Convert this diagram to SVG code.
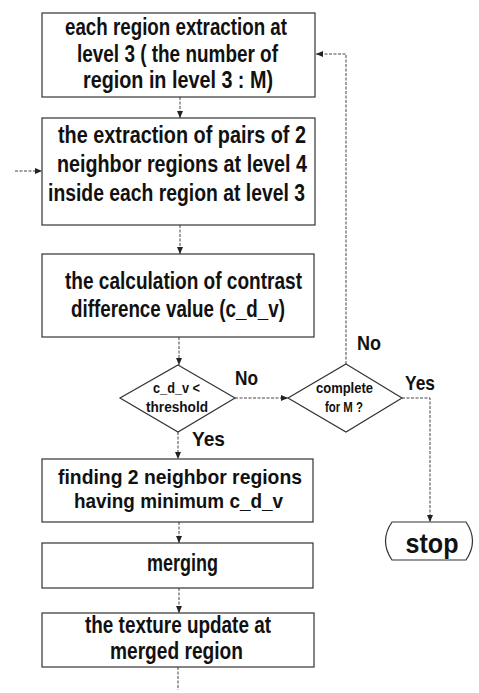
<svg xmlns="http://www.w3.org/2000/svg" width="479" height="693" viewBox="0 0 479 693">
<style>
.box{fill:#fff;stroke:#333;stroke-width:1.2}
.dia{fill:#fff;stroke:#333;stroke-width:1.2}
.t{font-family:"Liberation Sans",Arial,sans-serif;font-weight:bold;fill:#111;text-anchor:middle}
.b{font-size:23px}
.s{font-size:14px}
.l{font-size:21px}
.c{fill:none;stroke:#444;stroke-width:1;stroke-dasharray:3 1.5}
</style>
<defs>
<marker id="ah" markerUnits="userSpaceOnUse" markerWidth="8" markerHeight="8" refX="7" refY="4" orient="auto">
<path d="M0,1 L7,4 L0,7 Z" fill="#222"/>
</marker>
</defs>
<g id="connectors">
<path class="c" d="M180,97 V118" marker-end="url(#ah)"/>
<path class="c" d="M180,225 V254" marker-end="url(#ah)"/>
<path class="c" d="M179,337 V365" marker-end="url(#ah)"/>
<path class="c" d="M178,432 V459" marker-end="url(#ah)"/>
<path class="c" d="M179,522 V543" marker-end="url(#ah)"/>
<path class="c" d="M179,588 V613" marker-end="url(#ah)"/>
<path class="c" d="M178,667 V690"/>
<path class="c" d="M15,171 H42" marker-end="url(#ah)"/>
<path class="c" d="M235,398 H288" marker-end="url(#ah)"/>
<path class="c" d="M346,364 V54 H316" marker-end="url(#ah)"/>
<path class="c" d="M402,398 H430 V522" marker-end="url(#ah)"/>
</g>
<g id="n1">
<rect class="box" x="42" y="13" width="273" height="84"/>
<text class="t b" x="176" y="35" textLength="222" lengthAdjust="spacingAndGlyphs">each  region extraction at</text>
<text class="t b" x="177.5" y="62" textLength="201" lengthAdjust="spacingAndGlyphs">level 3  ( the number of</text>
<text class="t b" x="178" y="88" textLength="190" lengthAdjust="spacingAndGlyphs">region in level 3 : M)</text>
</g>
<g id="n2">
<rect class="box" x="42" y="118" width="273" height="107"/>
<text class="t b" x="182" y="143" textLength="248" lengthAdjust="spacingAndGlyphs">the extraction of pairs of 2</text>
<text class="t b" x="182" y="172" textLength="250" lengthAdjust="spacingAndGlyphs">neighbor regions at level 4</text>
<text class="t b" x="176.5" y="201" textLength="257" lengthAdjust="spacingAndGlyphs">inside  each region at level 3</text>
</g>
<g id="n3">
<rect class="box" x="42" y="254" width="272" height="83"/>
<text class="t b" x="183.5" y="289" textLength="237" lengthAdjust="spacingAndGlyphs">the calculation of contrast</text>
<text class="t b" x="178" y="317" textLength="214" lengthAdjust="spacingAndGlyphs">difference value (c_d_v)</text>
</g>
<g id="d1">
<polygon class="dia" points="178,365 235,398 178,432 120,398"/>
<text class="t s" x="176.5" y="393" textLength="47" lengthAdjust="spacingAndGlyphs">c_d_v &lt;</text>
<text class="t s" x="177" y="412" textLength="62" lengthAdjust="spacingAndGlyphs">threshold</text>
</g>
<g id="d2">
<polygon class="dia" points="346,364 402,398 346,432 288,398"/>
<text class="t s" x="344.5" y="393" textLength="57" lengthAdjust="spacingAndGlyphs">complete</text>
<text class="t s" x="344" y="412" textLength="38" lengthAdjust="spacingAndGlyphs">for M ?</text>
</g>
<g id="labels">
<text class="t l" x="246.5" y="385" textLength="23" lengthAdjust="spacingAndGlyphs">No</text>
<text class="t l" x="369" y="350" textLength="24" lengthAdjust="spacingAndGlyphs">No</text>
<text class="t l" x="420" y="390" textLength="30" lengthAdjust="spacingAndGlyphs">Yes</text>
<text class="t l" x="208.5" y="446" textLength="33" lengthAdjust="spacingAndGlyphs">Yes</text>
</g>
<g id="n4">
<rect class="box" x="42" y="459" width="271" height="63"/>
<text class="t" style="font-size:21px" x="180" y="484" textLength="244" lengthAdjust="spacingAndGlyphs">finding  2 neighbor regions</text>
<text class="t" style="font-size:21px" x="178.5" y="508" textLength="209" lengthAdjust="spacingAndGlyphs">having minimum c_d_v</text>
</g>
<g id="n5">
<rect class="box" x="42" y="543" width="271" height="45"/>
<text class="t b" x="182.5" y="571" textLength="71" lengthAdjust="spacingAndGlyphs">merging</text>
</g>
<g id="n6">
<rect class="box" x="42" y="613" width="272" height="54"/>
<text class="t b" x="178" y="633" textLength="186" lengthAdjust="spacingAndGlyphs">the texture update at</text>
<text class="t b" x="176.5" y="659" textLength="133" lengthAdjust="spacingAndGlyphs">merged region</text>
</g>
<g id="stop">
<path class="box" d="M392,522 H466 Q479,541 466,560 H392 Q379,541 392,522 Z"/>
<text class="t" style="font-size:28px" x="432" y="553" textLength="53" lengthAdjust="spacingAndGlyphs">stop</text>
</g>
</svg>
